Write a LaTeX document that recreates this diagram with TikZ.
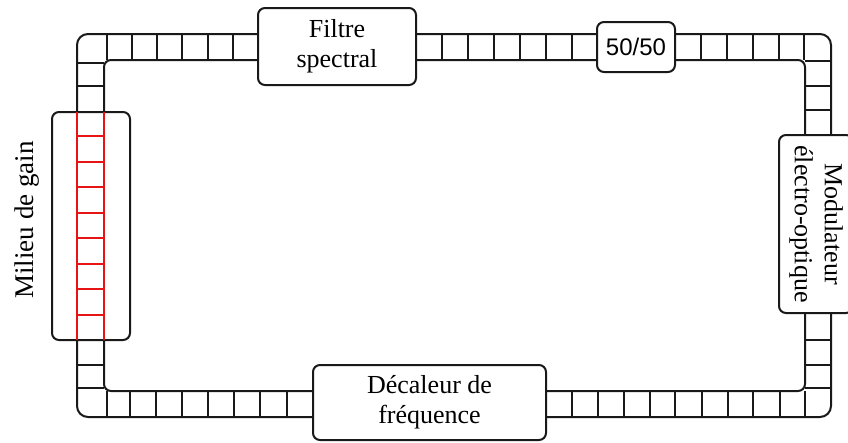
\documentclass[tikz,border=0pt]{standalone}
\usepackage{fontspec}
\setmainfont{Liberation Serif}
\setsansfont{Liberation Sans}
\definecolor{gainred}{RGB}{230,20,20}
\tikzset{
  rail/.style={line width=2pt, draw=black!90},
  rung/.style={line width=2pt, draw=black!90},
  redline/.style={line width=2pt, draw=gainred},
  compbox/.style={draw=black!90, line width=2pt, fill=white, rounded corners=7pt,
    align=center, inner sep=0pt, font=\fontsize{26}{30}\selectfont},
}
\begin{document}
\begin{tikzpicture}[x=1pt,y=-1pt]
\useasboundingbox (0,0) rectangle (848,442);
% rails
\draw[rail, rounded corners=11pt] (77,34) rectangle (831,417);
\draw[rail, rounded corners=7pt] (104,60) rectangle (805,391);
% top rungs
\foreach \x in {107,132,157,182,208,233,442,468,494,520,546,572,701,727,753,779,804}
  \draw[rung] (\x,34) -- (\x,60);
% bottom rungs
\foreach \x in {107,130,156,182,208,234,260,287,572,598,624,650,675,702,728,753,780,805}
  \draw[rung] (\x,391) -- (\x,417);
% left rungs
\foreach \y in {63,86,365,388}
  \draw[rung] (77,\y) -- (104,\y);
% right rungs
\foreach \y in {61,86,110,340,365,388}
  \draw[rung] (805,\y) -- (831,\y);
% boxes
\node[compbox, minimum width=158pt, minimum height=77pt] (filtre) at (337,46.5) {Filtre\\spectral};
\node[compbox, minimum width=78pt, minimum height=50pt, font=\sffamily\fontsize{24}{28}\selectfont] (split) at (636,47) {50/50};
\node[compbox, minimum width=233pt, minimum height=75pt] (decal) at (429.5,402.5) {Décaleur de\\fréquence};
\node[compbox, rotate=-90, minimum width=178pt, minimum height=74pt] (modul) at (816,224) {Modulateur\\électro-optique};
\node[compbox, minimum width=78pt, minimum height=228pt] (gain) at (91,226) {};
% red gain section
\draw[redline] (77,112) -- (77,340);
\draw[redline] (104,112) -- (104,340);
\foreach \y in {136,162,187,213,238,264,289,315}
  \draw[redline] (77,\y) -- (104,\y);
\node[rotate=90, inner sep=0pt, font=\fontsize{27}{30}\selectfont] (milieu) at (26.7,220) {Milieu de gain};
\end{tikzpicture}
\end{document}
